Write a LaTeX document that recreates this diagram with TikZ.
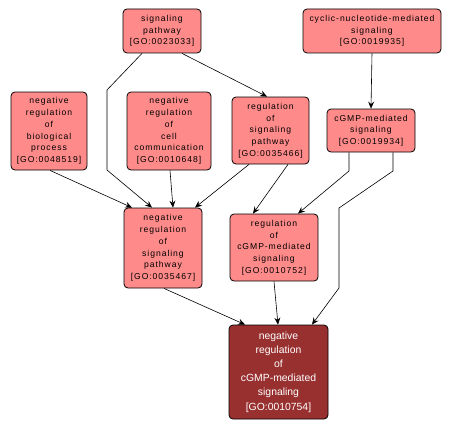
\documentclass[tikz,border=0pt]{standalone}
\usepackage{fontspec}
\setmainfont{Liberation Sans}
\newfontfamily\nodefont[LetterSpace=11]{Liberation Sans}
\usetikzlibrary{arrows.meta}
\definecolor{termfill}{RGB}{255,138,138}
\definecolor{targetfill}{RGB}{153,48,48}
\begin{document}
\begin{tikzpicture}[x=1pt,y=-1pt,
  term/.style={draw=black, line width=0.8pt, rounded corners=4pt, fill=termfill,
    align=center, inner sep=0pt, text=black,
    font=\nodefont\fontsize{8.6}{11.7}\selectfont},
  target/.style={term, fill=targetfill, text=white,
    font=\fontsize{10.4}{14.2}\selectfont},
  link/.style={-{Stealth[length=7pt,width=6pt,inset=2.5pt]}, line width=0.6pt, black}]
\useasboundingbox (0,0) rectangle (452,428);

\node[term, minimum width=78pt, minimum height=44pt] (A) at (162,31) {signaling\\pathway\\{[GO:0023033]}};
\node[term, minimum width=138pt, minimum height=44pt] (B) at (372,31) {cyclic-nucleotide-mediated\\signaling\\{[GO:0019935]}};
\node[term, minimum width=76pt, minimum height=78pt] (C) at (49,131) {negative\\regulation\\of\\biological\\process\\{[GO:0048519]}};
\node[term, minimum width=84pt, minimum height=78pt] (D) at (169,131) {negative\\regulation\\of\\cell\\communication\\{[GO:0010648]}};
\node[term, minimum width=77pt, minimum height=67pt] (E) at (270.5,130.5) {regulation\\of\\signaling\\pathway\\{[GO:0035466]}};
\node[term, minimum width=88pt, minimum height=43pt] (F) at (371,130.5) {cGMP-mediated\\signaling\\{[GO:0019934]}};
\node[term, minimum width=78pt, minimum height=80pt] (G) at (163,248) {negative\\regulation\\of\\signaling\\pathway\\{[GO:0035467]}};
\node[term, minimum width=88pt, minimum height=67pt] (H) at (274,247.5) {regulation\\of\\cGMP-mediated\\signaling\\{[GO:0010752]}};
\node[target, minimum width=99pt, minimum height=94pt] (I) at (278.5,372) {negative\\regulation\\of\\cGMP-mediated\\signaling\\{[GO:0010754]}};

\coordinate (a1) at (107,90);
\coordinate (a2) at (107,170);
\coordinate (f1) at (349,171);
\coordinate (f2) at (393,171);
\coordinate (f3) at (339,208);
\coordinate (f4) at (339,288);

\draw[link] ([xshift=-20pt]A.south) -- (a1) -- (a2) -- ([xshift=-11pt]G.north);
\draw[link] ([xshift=20pt]A.south) -- ([xshift=-3.5pt]E.north);
\draw[link] (B.south) -- (F.north);
\draw[link] ([xshift=1pt]C.south) -- ([xshift=-31pt]G.north);
\draw[link] ([xshift=1pt]D.south) -- ([xshift=10pt]G.north);
\draw[link] ([xshift=-21.5pt]E.south) -- ([xshift=32pt]G.north);
\draw[link] ([xshift=17.5pt]E.south) -- ([xshift=-21pt]H.north);
\draw[link] ([xshift=-22pt]F.south) -- (f1) -- ([xshift=24pt]H.north);
\draw[link] ([xshift=22pt]F.south) -- (f2) -- (f3) -- (f4) -- ([xshift=33.5pt]I.north);
\draw[link] ([xshift=1pt]G.south) -- ([xshift=-33.5pt]I.north);
\draw[link] (H.south) -- ([xshift=-0.5pt]I.north);
\end{tikzpicture}
\end{document}
